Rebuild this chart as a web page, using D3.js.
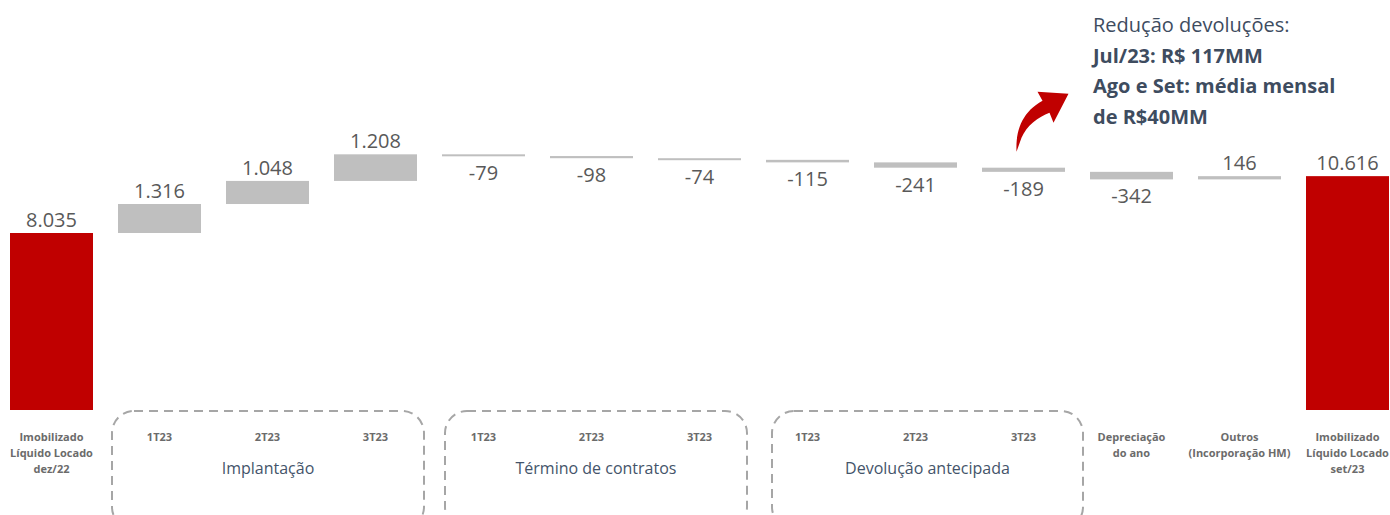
<!DOCTYPE html>
<html lang="pt-br">
<head>
<meta charset="utf-8">
<title>Imobilizado Líquido Locado</title>
<script src="https://cdn.jsdelivr.net/npm/d3@7"></script>
<style>
  body { margin: 0; background: #fff; }
  svg { display: block; font-family: "Open Sans", "Noto Sans", sans-serif; }
  .val { font-size: 20px; fill: #595959; }
  .cat { font-size: 11px; font-weight: bold; fill: #6b6b6b; }
  .grp { font-size: 16px; fill: #44546a; }
  .note { font-size: 20px; fill: #3e4c5f; }
</style>
</head>
<body>
<svg width="1390" height="515"></svg>
<script>
// dados
var categories = [
  ["Imobilizado", "Líquido Locado", "dez/22"],
  ["1T23"], ["2T23"], ["3T23"],
  ["1T23"], ["2T23"], ["3T23"],
  ["1T23"], ["2T23"], ["3T23"],
  ["Depreciação", "do ano"],
  ["Outros", "(Incorporação HM)"],
  ["Imobilizado", "Líquido Locado", "set/23"]
];
var values = [8035, 1316, 1048, 1208, -79, -98, -74, -115, -241, -189, -342, 146, 10616];
var isTotal = [true, false, false, false, false, false, false, false, false, false, false, false, true];
var groupNames = ["Implantação", "Término de contratos", "Devolução antecipada"];
var groupFirst = [1, 4, 7];
var groupLast = [3, 6, 9];
var noteLines = ["Redução devoluções:", "Jul/23: R$ 117MM", "Ago e Set: média mensal", "de R$40MM"];
var noteBold = [false, true, true, true];

// folga das caixas tracejadas (esq, dir)
var boxPadL = [6, -3, -6];
var boxPadR = [7, 6, 18];

var svg = d3.select("svg");

var fmt = d3.formatLocale({decimal: ",", thousands: ".", grouping: [3], currency: ["R$", ""], minus: "-"}).format(",d");

// calcula inicio/fim de cada barra (cascata)
var run = 0;
var bars = values.map(function(v, i) {
  var b;
  if (isTotal[i]) { b = {i: i, v: v, lo: 0, hi: v}; run = v; }
  else { b = {i: i, v: v, lo: Math.min(run, run + v), hi: Math.max(run, run + v)}; run += v; }
  return b;
});

var x = d3.scaleBand()
    .domain(d3.range(values.length))
    .range([10, 1389])
    .paddingInner(0.2315)
    .paddingOuter(0);

var y = d3.scaleLinear()
    .domain([0, 12000])
    .range([410, 410 - 12000 * 177 / 8035]);

svg.append("g").selectAll("rect")
  .data(bars)
  .enter().append("rect")
    .attr("x", function(d) { return x(d.i); })
    .attr("width", x.bandwidth())
    .attr("y", function(d) { return y(d.hi); })
    .attr("height", function(d) { return Math.max(2, y(d.lo) - y(d.hi)); })
    .attr("fill", function(d) { return isTotal[d.i] ? "#c00000" : "#bfbfbf"; });

// rótulos de valor
svg.append("g").selectAll("text")
  .data(bars)
  .enter().append("text")
    .attr("class", "val")
    .attr("text-anchor", "middle")
    .attr("x", function(d) { return x(d.i) + x.bandwidth() / 2; })
    .attr("y", function(d) {
      if (d.v >= 0) return y(d.hi) - 6;
      return Math.max(y(d.lo), y(d.hi) + 2) + 24;
    })
    .text(function(d) { return fmt(d.v); });

// rótulos das categorias
var cat = svg.append("g").selectAll("text")
  .data(categories)
  .enter().append("text")
    .attr("class", "cat")
    .attr("text-anchor", "middle")
    .attr("x", function(d, i) { return x(i) + x.bandwidth() / 2; })
    .attr("y", 441);
cat.selectAll("tspan")
  .data(function(d, i) { return d.map(function(t) { return {t: t, i: i}; }); })
  .enter().append("tspan")
    .attr("x", function(d) { return x(d.i) + x.bandwidth() / 2; })
    .attr("dy", function(d, j) { return j === 0 ? 0 : 16; })
    .text(function(d) { return d.t; });

// caixas tracejadas dos grupos
function boxL(k) { return x(groupFirst[k]) - boxPadL[k]; }
function boxR(k) { return x(groupLast[k]) + x.bandwidth() + boxPadR[k]; }

var grp = svg.append("g").selectAll("g")
  .data(groupNames)
  .enter().append("g");
grp.append("rect")
    .attr("x", function(d, k) { return boxL(k); })
    .attr("y", 411)
    .attr("width", function(d, k) { return boxR(k) - boxL(k); })
    .attr("height", 118)
    .attr("rx", 22)
    .attr("fill", "none")
    .attr("stroke", "#a6a6a6")
    .attr("stroke-width", 2)
    .attr("stroke-dasharray", "9,6");
grp.append("text")
    .attr("class", "grp")
    .attr("text-anchor", "middle")
    .attr("x", function(d, k) { return (boxL(k) + boxR(k)) / 2; })
    .attr("y", 474)
    .text(function(d) { return d; });

// anotação
svg.append("g").selectAll("text")
  .data(noteLines)
  .enter().append("text")
    .attr("class", "note")
    .attr("x", 1093)
    .attr("y", function(d, i) { return 32 + i * 30.7; })
    .attr("font-weight", function(d, i) { return noteBold[i] ? "bold" : "normal"; })
    .text(function(d) { return d; });

// seta curva
var ax = x(9) + x.bandwidth() / 2 - 7, ay = y(bars[9].hi) - 16;
svg.append("path")
    .attr("transform", "translate(" + ax + "," + ay + ")")
    .attr("d", "M0,0 C-1,-22 6,-40 26,-51 L21,-60 L52,-58 L37,-29 L33,-39 C22,-35 10,-26 5,-14 Z")
    .attr("fill", "#c00000");
</script>
</body>
</html>
